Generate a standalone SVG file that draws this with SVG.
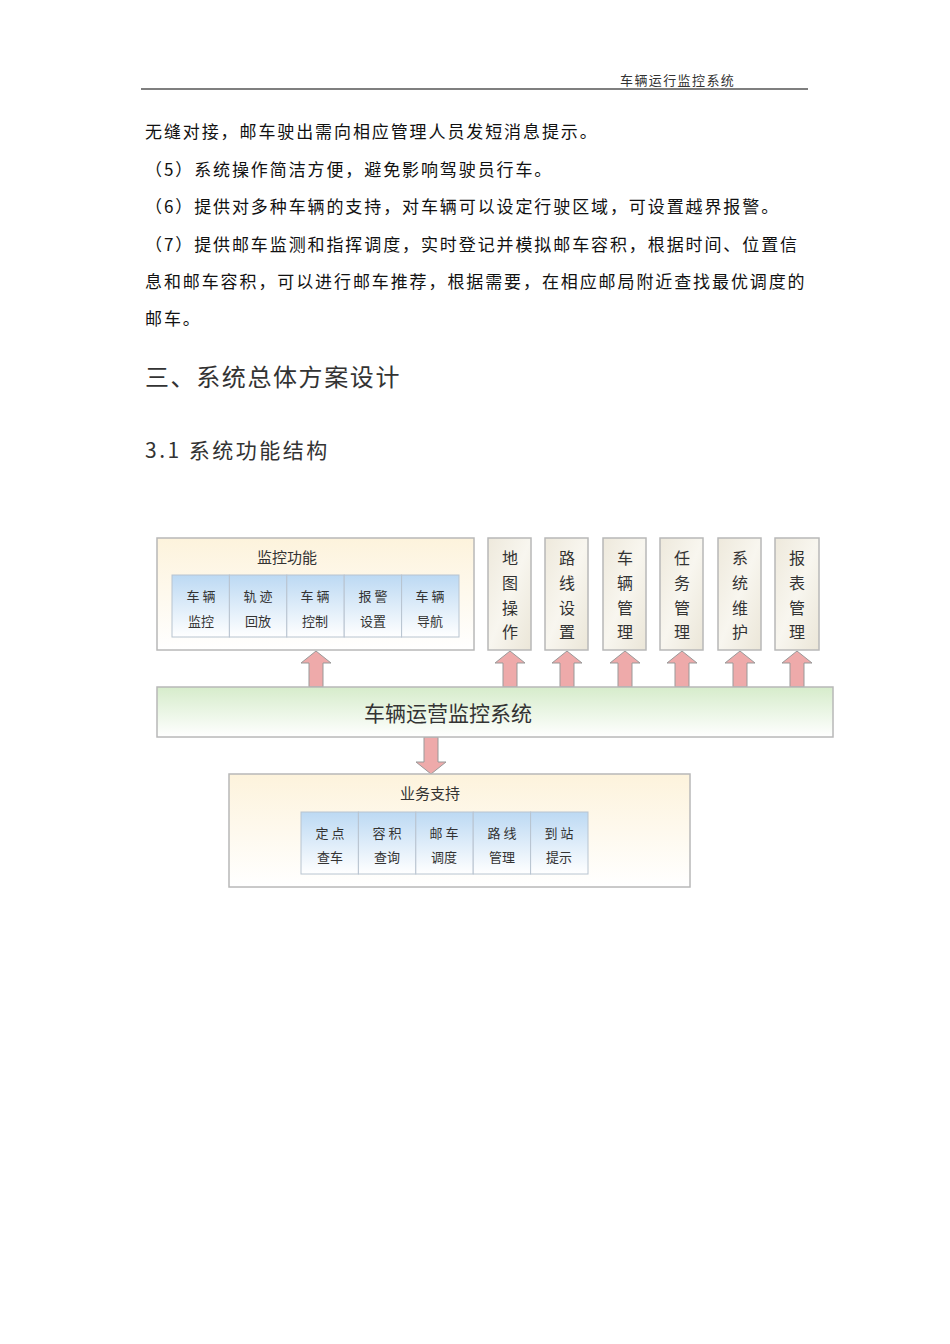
<svg xmlns="http://www.w3.org/2000/svg" width="950" height="1344" viewBox="0 0 950 1344">
<defs>
<linearGradient id="cream" x1="0" y1="0" x2="0" y2="1"><stop offset="0" stop-color="#fdf3dc"/><stop offset="1" stop-color="#ffffff"/></linearGradient>
<linearGradient id="blue" x1="0" y1="0" x2="0" y2="1"><stop offset="0" stop-color="#bcd9f3"/><stop offset="1" stop-color="#ffffff"/></linearGradient>
<linearGradient id="green" x1="0" y1="0" x2="0" y2="1"><stop offset="0" stop-color="#d6eccb"/><stop offset="1" stop-color="#ffffff"/></linearGradient>
<linearGradient id="col" x1="0" y1="0" x2="1" y2="1"><stop offset="0" stop-color="#eee9dc"/><stop offset="0.5" stop-color="#f8f6ef"/><stop offset="1" stop-color="#ebe6d8"/></linearGradient>
<path id="up" d="M-7,0 V-24 H-15 L0,-36 L15,-24 H7 V0 Z"/>
</defs>
<style>
text{font-family:"Noto Sans CJK SC","Liberation Serif",serif;fill:#333}
.b{font-size:17px;fill:#111;letter-spacing:1.9px}
.c{font-size:13px;text-anchor:middle}
.v{font-size:16px;text-anchor:middle}
.box{stroke:#b8b8b8;stroke-width:1.5}
.cell{fill:url(#blue);stroke:#b8c4d0;stroke-width:1}
.arr{fill:#eeaaaa;stroke:#999;stroke-width:1}
</style>
<rect width="950" height="1344" fill="#fff"/>
<text x="620" y="85" font-size="13" letter-spacing="1.4">车辆运行监控系统</text>
<line x1="141" y1="89" x2="808" y2="89" stroke="#000" stroke-width="1.2"/>
<text class="b" x="145" y="138">无缝对接，邮车驶出需向相应管理人员发短消息提示。</text>
<text class="b" x="145" y="176">（5）系统操作简洁方便，避免影响驾驶员行车。</text>
<text class="b" x="145" y="213">（6）提供对多种车辆的支持，对车辆可以设定行驶区域，可设置越界报警。</text>
<text class="b" x="145" y="251">（7）提供邮车监测和指挥调度，实时登记并模拟邮车容积，根据时间、位置信</text>
<text class="b" x="145" y="288">息和邮车容积，可以进行邮车推荐，根据需要，在相应邮局附近查找最优调度的</text>
<text class="b" x="145" y="325">邮车。</text>
<text x="145" y="386" font-size="24" fill="#111" letter-spacing="1.6">三、系统总体方案设计</text>
<text x="145" y="458" font-size="21" fill="#111" letter-spacing="2.5">3.1  系统功能结构</text>

<g id="connectors">
<use href="#up" x="316" y="687" class="arr"/>
<use href="#up" x="510" y="687" class="arr"/>
<use href="#up" x="567" y="687" class="arr"/>
<use href="#up" x="625" y="687" class="arr"/>
<use href="#up" x="682" y="687" class="arr"/>
<use href="#up" x="740" y="687" class="arr"/>
<use href="#up" x="797" y="687" class="arr"/>
<path class="arr" d="M424,737 V762 H416 L431,774 L446,762 H438 V737 Z"/>
</g>

<g id="monitor">
<rect class="box" x="157" y="538" width="317" height="112" fill="url(#cream)"/>
<text x="257" y="563" font-size="15">监控功能</text>
<rect class="cell" x="172" y="575" width="57.4" height="62"/><rect class="cell" x="229.4" y="575" width="57.4" height="62"/><rect class="cell" x="286.8" y="575" width="57.4" height="62"/><rect class="cell" x="344.2" y="575" width="57.4" height="62"/><rect class="cell" x="401.6" y="575" width="57.4" height="62"/>
<text class="c" x="201" y="601">车 辆</text><text class="c" x="201" y="626">监控</text>
<text class="c" x="258" y="601">轨 迹</text><text class="c" x="258" y="626">回放</text>
<text class="c" x="315" y="601">车 辆</text><text class="c" x="315" y="626">控制</text>
<text class="c" x="373" y="601">报 警</text><text class="c" x="373" y="626">设置</text>
<text class="c" x="430" y="601">车 辆</text><text class="c" x="430" y="626">导航</text>
</g>

<g id="cols">
<rect class="box" x="488" y="538" width="43" height="112" fill="url(#col)"/>
<rect class="box" x="545" y="538" width="43" height="112" fill="url(#col)"/>
<rect class="box" x="603" y="538" width="43" height="112" fill="url(#col)"/>
<rect class="box" x="660" y="538" width="43" height="112" fill="url(#col)"/>
<rect class="box" x="718" y="538" width="43" height="112" fill="url(#col)"/>
<rect class="box" x="775" y="538" width="44" height="112" fill="url(#col)"/>
<text class="v" x="510" y="564">地</text><text class="v" x="510" y="589">图</text><text class="v" x="510" y="614">操</text><text class="v" x="510" y="638">作</text>
<text class="v" x="567" y="564">路</text><text class="v" x="567" y="589">线</text><text class="v" x="567" y="614">设</text><text class="v" x="567" y="638">置</text>
<text class="v" x="625" y="564">车</text><text class="v" x="625" y="589">辆</text><text class="v" x="625" y="614">管</text><text class="v" x="625" y="638">理</text>
<text class="v" x="682" y="564">任</text><text class="v" x="682" y="589">务</text><text class="v" x="682" y="614">管</text><text class="v" x="682" y="638">理</text>
<text class="v" x="740" y="564">系</text><text class="v" x="740" y="589">统</text><text class="v" x="740" y="614">维</text><text class="v" x="740" y="638">护</text>
<text class="v" x="797" y="564">报</text><text class="v" x="797" y="589">表</text><text class="v" x="797" y="614">管</text><text class="v" x="797" y="638">理</text>
</g>

<g id="main">
<rect class="box" x="157" y="687" width="676" height="50" fill="url(#green)"/>
<text x="448" y="721" font-size="21" text-anchor="middle">车辆运营监控系统</text>
</g>

<g id="support">
<rect class="box" x="229" y="774" width="461" height="113" fill="url(#cream)"/>
<text x="400" y="799" font-size="15">业务支持</text>
<rect class="cell" x="301" y="812" width="57.4" height="62"/><rect class="cell" x="358.4" y="812" width="57.4" height="62"/><rect class="cell" x="415.8" y="812" width="57.4" height="62"/><rect class="cell" x="473.2" y="812" width="57.4" height="62"/><rect class="cell" x="530.6" y="812" width="57.4" height="62"/>
<text class="c" x="330" y="838">定 点</text><text class="c" x="330" y="862">查车</text>
<text class="c" x="387" y="838">容 积</text><text class="c" x="387" y="862">查询</text>
<text class="c" x="444" y="838">邮 车</text><text class="c" x="444" y="862">调度</text>
<text class="c" x="502" y="838">路 线</text><text class="c" x="502" y="862">管理</text>
<text class="c" x="559" y="838">到 站</text><text class="c" x="559" y="862">提示</text>
</g>
</svg>
